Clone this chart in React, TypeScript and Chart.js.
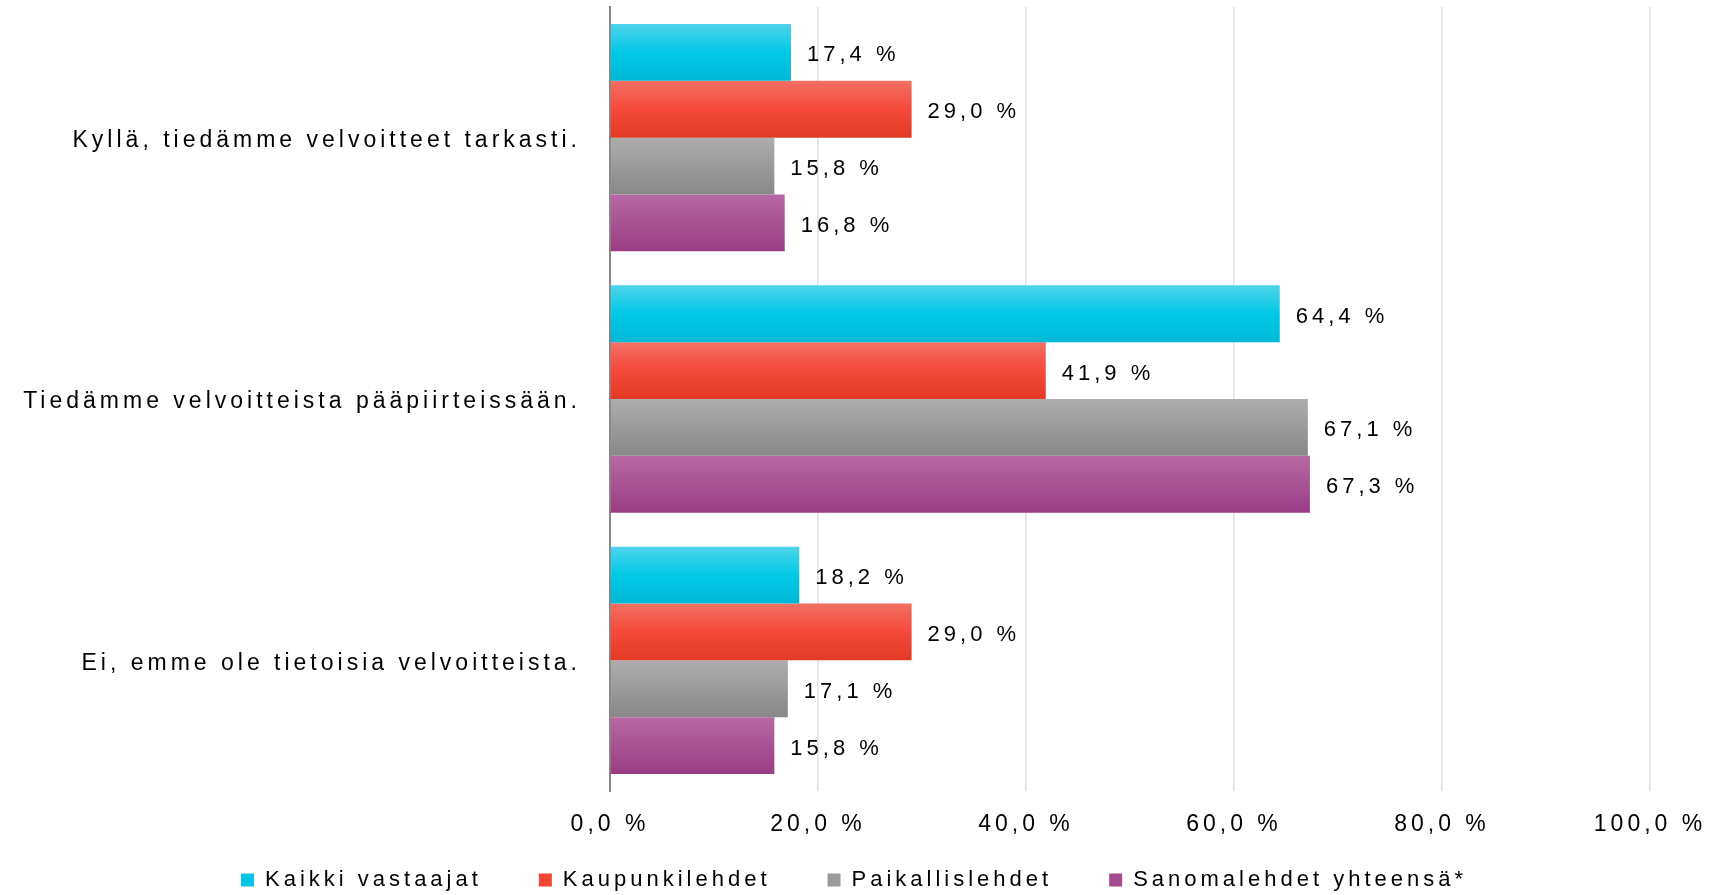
import React, { useEffect, useRef } from 'react';
import { Chart, registerables } from 'chart.js';

Chart.register(...registerables);

const categories = [
  'Kyllä, tiedämme velvoitteet tarkasti.',
  'Tiedämme velvoitteista pääpiirteissään.',
  'Ei, emme ole tietoisia velvoitteista.',
];
const seriesNames = ['Kaikki vastaajat', 'Kaupunkilehdet', 'Paikallislehdet', 'Sanomalehdet yhteensä*'];
const kaikkiVastaajat = [17.4, 64.4, 18.2];
const kaupunkilehdet = [29.0, 41.9, 29.0];
const paikallislehdet = [15.8, 67.1, 17.1];
const sanomalehdetYhteensa = [16.8, 67.3, 15.8];
const xTickValues = [0, 20, 40, 60, 80, 100];

const seriesValues = [kaikkiVastaajat, kaupunkilehdet, paikallislehdet, sanomalehdetYhteensa];
const legendColors = ['#00c4e3', '#f04532', '#9a9a9a', '#a64a92'];
const gradientStops: [number, string][][] = [
  [[0, '#4fd3ea'], [0.5, '#00c9e6'], [1, '#00b8d6']],
  [[0, '#f27063'], [0.5, '#f5493a'], [1, '#e23a24']],
  [[0, '#adadad'], [1, '#888888']],
  [[0, '#b869a4'], [1, '#993c85']],
];

const FONT_FAMILY = '"Liberation Sans", Arial, Helvetica, sans-serif';
const LETTER_SPACING = '4px';
const CAT_PCT = 0.87;

const fmt = (v: number) => v.toFixed(1).replace('.', ',') + ' %';

const setSpacing = (chart: any) => {
  try {
    (chart.ctx as any).letterSpacing = LETTER_SPACING;
  } catch (e) {
    /* ignore */
  }
};

const spacingPlugin = {
  id: 'letterSpacingPlugin',
  beforeInit: setSpacing,
  beforeUpdate: setSpacing,
  beforeLayout: setSpacing,
  beforeDraw: setSpacing,
  afterLayout(chart: any) {
    const lg = chart.legend;
    if (lg) {
      lg.top = 812;
      lg.bottom = chart.height;
      lg.left += 29;
      lg.right += 29;
    }
  },
};

const valueLabelPlugin = {
  id: 'valueLabels',
  afterDatasetsDraw(chart: any) {
    const ctx = chart.ctx;
    ctx.save();
    (ctx as any).letterSpacing = LETTER_SPACING;
    ctx.font = `22px ${FONT_FAMILY}`;
    ctx.fillStyle = '#000000';
    ctx.textAlign = 'left';
    ctx.textBaseline = 'middle';
    chart.data.datasets.forEach((ds: any, i: number) => {
      const meta = chart.getDatasetMeta(i);
      meta.data.forEach((el: any, j: number) => {
        const v = ds.data[j] as number;
        ctx.fillText(fmt(v), el.x + 16, el.y + 3);
      });
    });
    ctx.restore();
  },
};

function makeBackground(datasetIndex: number) {
  return (c: any) => {
    const chart = c.chart;
    const y = chart.scales && chart.scales.y;
    if (c.type !== 'data' || !y || !y.height) return legendColors[datasetIndex];
    const catH = y.height / categories.length;
    const full = catH * CAT_PCT;
    const barH = full / seriesValues.length;
    const center = y.getPixelForTick(c.dataIndex);
    const top = center - full / 2 + datasetIndex * barH;
    const g = chart.ctx.createLinearGradient(0, top, 0, top + barH);
    gradientStops[datasetIndex].forEach(([o, col]) => g.addColorStop(o, col));
    return g;
  };
}

export default function App() {
  const canvasRef = useRef<HTMLCanvasElement | null>(null);

  useEffect(() => {
    if (!canvasRef.current) return;
    const chart = new Chart(canvasRef.current, {
      type: 'bar',
      data: {
        labels: categories,
        datasets: seriesNames.map((name, i) => ({
          label: name,
          data: seriesValues[i],
          backgroundColor: makeBackground(i),
          borderWidth: 0,
          categoryPercentage: CAT_PCT,
          barPercentage: 1,
        })),
      },
      options: {
        indexAxis: 'y',
        responsive: true,
        maintainAspectRatio: false,
        animation: false,
        layout: { padding: { top: 7, right: 65, left: 0, bottom: 0 } },
        scales: {
          x: {
            type: 'linear',
            min: 0,
            max: 100,
            afterBuildTicks: (s: any) => {
              s.ticks = xTickValues.map((v) => ({ value: v }));
            },
            afterFit: (s: any) => {
              s.height = 55;
              s.paddingLeft = 0;
              s.paddingRight = 0;
            },
            ticks: {
              font: { family: FONT_FAMILY, size: 23 },
              color: '#000000',
              padding: 20,
              maxRotation: 0,
              minRotation: 0,
              autoSkip: false,
              callback: (v: any) => fmt(Number(v)),
            },
            grid: {
              color: (ctx: any) => (ctx.tick && ctx.tick.value === 0 ? 'rgba(0,0,0,0)' : '#d8e2ee'),
              lineWidth: 1.5,
              drawTicks: false,
            },
            border: { display: false },
          },
          y: {
            type: 'category',
            afterFit: (s: any) => {
              s.width = 610;
              s.paddingTop = 0;
              s.paddingBottom = 0;
            },
            ticks: {
              font: { family: FONT_FAMILY, size: 23 },
              color: '#000000',
              padding: 29,
              labelOffset: 3,
            },
            grid: { display: false, drawTicks: false },
            border: { display: true, color: '#878787', width: 2 },
          },
        },
        plugins: {
          legend: {
            position: 'bottom',
            maxHeight: 49,
            labels: {
              font: { family: FONT_FAMILY, size: 22 },
              color: '#000000',
              boxWidth: 13,
              boxHeight: 13,
              padding: 57,
              generateLabels: () =>
                seriesNames.map((name, i) => ({
                  text: name,
                  fillStyle: legendColors[i],
                  strokeStyle: legendColors[i],
                  lineWidth: 0,
                  hidden: false,
                  datasetIndex: i,
                  fontColor: '#000000',
                })),
            },
          },
          tooltip: { enabled: false },
        },
      },
      plugins: [spacingPlugin, valueLabelPlugin],
    } as any);
    return () => chart.destroy();
  }, []);

  return (
    <div style={{ position: 'absolute', left: 0, top: 0, width: 1715, height: 895, background: '#ffffff' }}>
      <canvas ref={canvasRef} />
    </div>
  );
}
